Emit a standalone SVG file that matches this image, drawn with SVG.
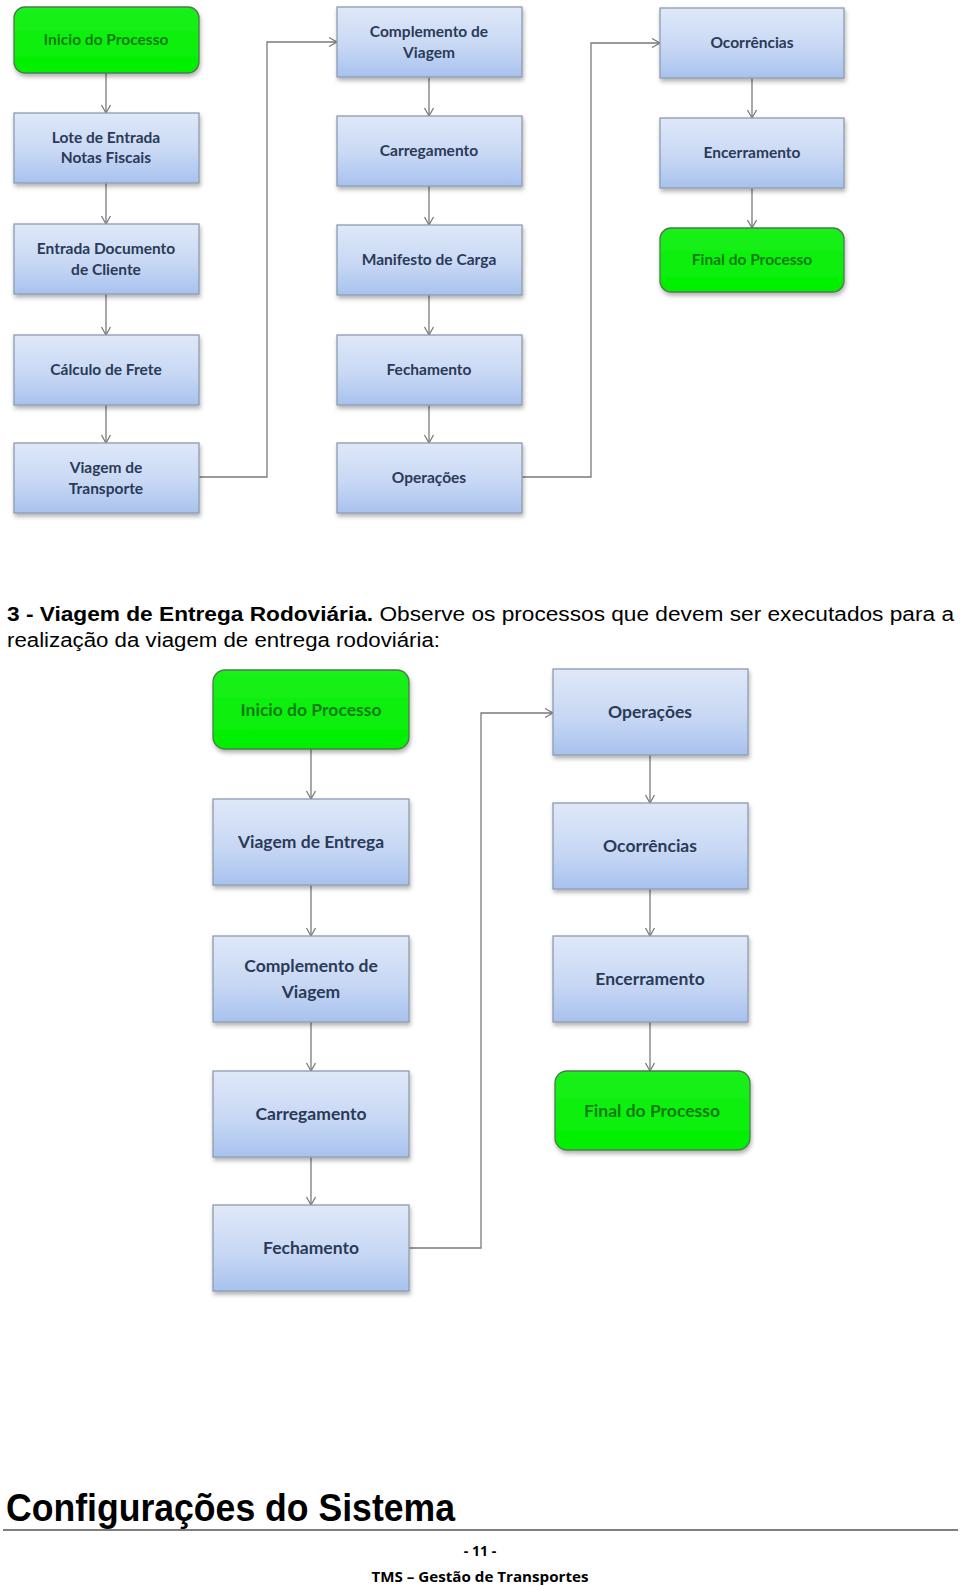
<svg xmlns="http://www.w3.org/2000/svg" width="960" height="1586" viewBox="0 0 960 1586">
<defs>
<linearGradient id="gb" x1="0" y1="0" x2="0" y2="1">
<stop offset="0" stop-color="#dfe8f8"/>
<stop offset="0.55" stop-color="#c8d8f4"/>
<stop offset="1" stop-color="#a8c2ee"/>
</linearGradient>
<linearGradient id="gg" x1="0" y1="0" x2="0" y2="1">
<stop offset="0" stop-color="#1bf01b"/>
<stop offset="1" stop-color="#00f000"/>
</linearGradient>
<filter id="sh" x="-10%" y="-10%" width="130%" height="140%">
<feDropShadow dx="1" dy="3" stdDeviation="2" flood-color="#000" flood-opacity="0.3"/>
</filter>
<marker id="ar" markerWidth="12" markerHeight="12" refX="10" refY="6" orient="auto" markerUnits="userSpaceOnUse">
<path d="M2,1.5 L10,6 L2,10.5" fill="none" stroke="#7a7a7a" stroke-width="1.3"/>
</marker>
<style>
.b{fill:url(#gb);stroke:#8d9bb0;stroke-width:1.3;filter:url(#sh)}
.g{fill:url(#gg);stroke:#4d7a4d;stroke-width:1.3;filter:url(#sh)}
.t{font-family:Lato,"Open Sans","Liberation Sans",sans-serif;font-weight:bold;fill:#2a3a58;text-anchor:middle}
.tg{font-family:Lato,"Open Sans","Liberation Sans",sans-serif;font-weight:bold;fill:#107c10;text-anchor:middle}
.s{font-size:15.5px}
.l{font-size:17.5px}
.c{fill:none;stroke:#7a7a7a;stroke-width:1.3}
.a{marker-end:url(#ar)}
</style>
</defs>
<rect width="960" height="1586" fill="#fff"/>

<g id="connectors1">
<path class="c a" d="M106,73 V113"/>
<path class="c a" d="M106,183 V224"/>
<path class="c a" d="M106,294 V335"/>
<path class="c a" d="M106,405 V443"/>
<path class="c a" d="M199,477 H267 V42 H337"/>
<path class="c a" d="M429,77 V116"/>
<path class="c a" d="M429,186 V225"/>
<path class="c a" d="M429,295 V335"/>
<path class="c a" d="M429,405 V443"/>
<path class="c a" d="M522,477 H591 V43 H660"/>
<path class="c a" d="M752,78 V118"/>
<path class="c a" d="M752,188 V228"/>
</g>

<g id="n1"><rect class="g" x="14" y="7" width="185" height="66" rx="11"/><text class="tg s" x="106" y="45">Inicio do Processo</text></g>
<g id="n2"><rect class="b" x="14" y="113" width="185" height="70"/><text class="t s" x="106" y="143">Lote de Entrada</text><text class="t s" x="106" y="163">Notas Fiscais</text></g>
<g id="n3"><rect class="b" x="14" y="224" width="185" height="70"/><text class="t s" x="106" y="254">Entrada Documento</text><text class="t s" x="106" y="275">de Cliente</text></g>
<g id="n4"><rect class="b" x="14" y="335" width="185" height="70"/><text class="t s" x="106" y="375">Cálculo de Frete</text></g>
<g id="n5"><rect class="b" x="14" y="443" width="185" height="70"/><text class="t s" x="106" y="473">Viagem de</text><text class="t s" x="106" y="494">Transporte</text></g>

<g id="n6"><rect class="b" x="337" y="7" width="185" height="70"/><text class="t s" x="429" y="37">Complemento de</text><text class="t s" x="429" y="58">Viagem</text></g>
<g id="n7"><rect class="b" x="337" y="116" width="185" height="70"/><text class="t s" x="429" y="156">Carregamento</text></g>
<g id="n8"><rect class="b" x="337" y="225" width="185" height="70"/><text class="t s" x="429" y="265">Manifesto de Carga</text></g>
<g id="n9"><rect class="b" x="337" y="335" width="185" height="70"/><text class="t s" x="429" y="375">Fechamento</text></g>
<g id="n10"><rect class="b" x="337" y="443" width="185" height="70"/><text class="t s" x="429" y="483">Operações</text></g>

<g id="n11"><rect class="b" x="660" y="8" width="184" height="70"/><text class="t s" x="752" y="48">Ocorrências</text></g>
<g id="n12"><rect class="b" x="660" y="118" width="184" height="70"/><text class="t s" x="752" y="158">Encerramento</text></g>
<g id="n13"><rect class="g" x="660" y="228" width="184" height="64" rx="11"/><text class="tg s" x="752" y="265">Final do Processo</text></g>

<text x="7" y="621" font-family="'Liberation Sans',Arial,sans-serif" font-size="20" fill="#000" textLength="947" lengthAdjust="spacingAndGlyphs"><tspan font-weight="bold">3 - Viagem de Entrega Rodoviária.</tspan> Observe os processos que devem ser executados para a</text>
<text x="7" y="647" font-family="'Liberation Sans',Arial,sans-serif" font-size="20" fill="#000" textLength="433" lengthAdjust="spacingAndGlyphs">realização da viagem de entrega rodoviária:</text>

<g id="connectors2">
<path class="c a" d="M311,749 V799"/>
<path class="c a" d="M311,885 V936"/>
<path class="c a" d="M311,1022 V1071"/>
<path class="c a" d="M311,1157 V1205"/>
<path class="c a" d="M409,1248 H481 V713 H553"/>
<path class="c a" d="M650,755 V803"/>
<path class="c a" d="M650,889 V936"/>
<path class="c a" d="M650,1022 V1071"/>
</g>

<g id="m1"><rect class="g" x="213" y="670" width="196" height="79" rx="12"/><text class="tg l" x="311" y="716">Inicio do Processo</text></g>
<g id="m2"><rect class="b" x="213" y="799" width="196" height="86"/><text class="t l" x="311" y="848">Viagem de Entrega</text></g>
<g id="m3"><rect class="b" x="213" y="936" width="196" height="86"/><text class="t l" x="311" y="972">Complemento de</text><text class="t l" x="311" y="998">Viagem</text></g>
<g id="m4"><rect class="b" x="213" y="1071" width="196" height="86"/><text class="t l" x="311" y="1120">Carregamento</text></g>
<g id="m5"><rect class="b" x="213" y="1205" width="196" height="86"/><text class="t l" x="311" y="1254">Fechamento</text></g>

<g id="m6"><rect class="b" x="553" y="669" width="195" height="86"/><text class="t l" x="650" y="718">Operações</text></g>
<g id="m7"><rect class="b" x="553" y="803" width="195" height="86"/><text class="t l" x="650" y="852">Ocorrências</text></g>
<g id="m8"><rect class="b" x="553" y="936" width="195" height="86"/><text class="t l" x="650" y="985">Encerramento</text></g>
<g id="m9"><rect class="g" x="555" y="1071" width="195" height="79" rx="12"/><text class="tg l" x="652" y="1117">Final do Processo</text></g>

<text x="6" y="1521" font-family="'Liberation Sans',Arial,sans-serif" font-size="38" font-weight="bold" fill="#000" textLength="449" lengthAdjust="spacingAndGlyphs">Configurações do Sistema</text>
<line x1="3" y1="1530" x2="958" y2="1530" stroke="#000" stroke-width="1.2"/>
<text x="480" y="1556" font-family="'Open Sans','Liberation Sans',sans-serif" font-size="14" font-weight="bold" fill="#000" text-anchor="middle">- 11 -</text>
<text x="480" y="1582" font-family="'Open Sans','Liberation Sans',sans-serif" font-size="14.5" font-weight="bold" fill="#000" text-anchor="middle" textLength="217" lengthAdjust="spacingAndGlyphs">TMS – Gestão de Transportes</text>
</svg>
